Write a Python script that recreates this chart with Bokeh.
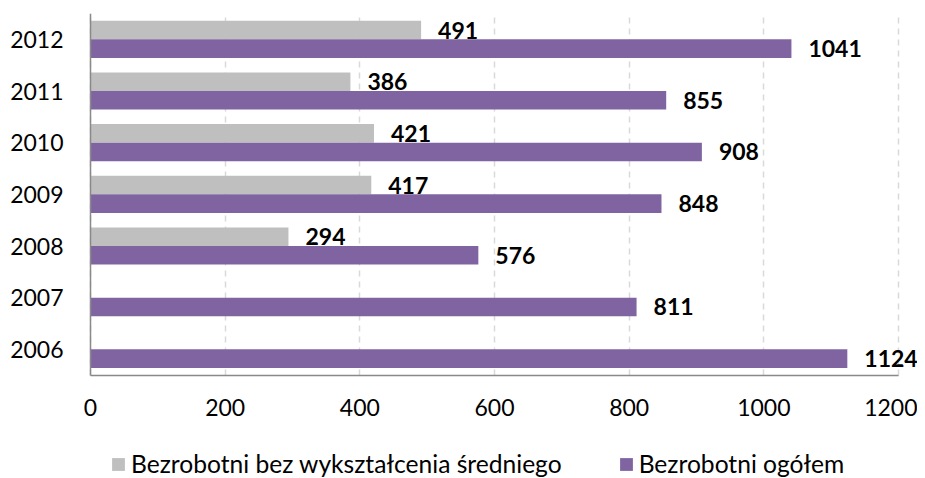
from bokeh.plotting import figure
from bokeh.models import (ColumnDataSource, Range1d, FixedTicker,
                          LabelSet, Legend, LegendItem)
from bokeh.core.properties import value
from bokeh.transform import dodge
from bokeh.embed import file_html
from bokeh.resources import INLINE

years = ["2006", "2007", "2008", "2009", "2010", "2011", "2012"]
total = [1124, 811, 576, 848, 908, 855, 1041]
no_secondary = [None, None, 294, 417, 421, 386, 491]
x_ticks = [0, 200, 400, 600, 800, 1000, 1200]
series_names = ["Bezrobotni bez wykształcenia średniego", "Bezrobotni ogółem"]

GRAY = "#BFBFBF"
PURPLE = "#8064A2"
FONT = "Lato"

pos = list(range(len(years)))
src_total = ColumnDataSource(dict(pos=pos, value=total,
                                  label=[str(v) for v in total]))
sec_pos = [i for i, v in zip(pos, no_secondary) if v is not None]
sec_vals = [v for v in no_secondary if v is not None]
src_sec = ColumnDataSource(dict(pos=sec_pos, value=sec_vals,
                                label=[str(v) for v in sec_vals]))

n = len(years)
# layout: axis origin 90px from the left, 808px for 0..1200
PX_PER_UNIT = 808 / 1200
X_START = -90 / PX_PER_UNIT
X_END = (917 - 90) / PX_PER_UNIT

p = figure(x_range=Range1d(X_START, X_END), y_range=Range1d(-2.5, n - 0.5),
           frame_width=917, frame_height=465,
           min_border_left=0, min_border_right=0, min_border_top=13,
           min_border_bottom=0,
           output_backend="svg", toolbar_location=None)
p.outline_line_color = None
p.background_fill_color = "white"

# grid lines (vertical, dashed) limited to the plotting band
try:
    p.xgrid.cross_bounds = (-0.5, n - 0.5)
    p.xgrid.ticker = FixedTicker(ticks=x_ticks)
    p.xgrid.grid_line_color = "#D9D9D9"
    p.xgrid.grid_line_dash = "6 5"
    p.xgrid.grid_line_width = 1.5
except AttributeError:
    p.xgrid.grid_line_color = None
    p.segment(x0=x_ticks, x1=x_ticks, y0=[-0.5] * len(x_ticks),
              y1=[n - 0.5] * len(x_ticks), line_color="#D9D9D9",
              line_dash="6 5", line_width=1.5)
p.ygrid.grid_line_color = None

r_sec = p.hbar(y=dodge("pos", 0.18), right="value", left=0,
               height=0.36, source=src_sec, fill_color=GRAY, line_color=None)
r_tot = p.hbar(y=dodge("pos", -0.18), right="value", left=0,
               height=0.36, source=src_total, fill_color=PURPLE, line_color=None)

for src, off in ((src_sec, 0.18), (src_total, -0.18)):
    lbl = LabelSet(x="value", y=dodge("pos", off), text="label",
                   source=src, x_offset=17, text_baseline="middle",
                   text_font=value(FONT), text_font_style="bold",
                   text_font_size="23px", text_color="#000000")
    p.add_layout(lbl)

# axes
p.xaxis.ticker = FixedTicker(ticks=x_ticks)
p.xaxis.fixed_location = -0.5
p.xaxis.bounds = (0, 1200)
p.yaxis.ticker = FixedTicker(ticks=pos)
p.yaxis.major_label_overrides = {i: y for i, y in zip(pos, years)}
p.yaxis.bounds = (-0.5, n - 0.5)
p.yaxis.fixed_location = 0
for ax in (p.xaxis[0], p.yaxis[0]):
    ax.major_tick_out = 0
    ax.major_tick_in = 0
    ax.minor_tick_out = 0
    ax.minor_tick_in = 0
    ax.axis_line_color = "#898989"
    ax.axis_line_width = 1.5
    ax.major_label_text_font = FONT
    ax.major_label_text_font_size = "23px"
    ax.major_label_text_color = "#000000"
p.xaxis.major_label_standoff = 24
p.yaxis.major_label_standoff = 27

legend = Legend(items=[LegendItem(label=series_names[0], renderers=[r_sec]),
                       LegendItem(label=series_names[1], renderers=[r_tot])],
                orientation="horizontal", location=(110, 0),
                padding=0, margin=0, spacing=56,
                glyph_width=16, glyph_height=16, label_standoff=5,
                label_text_font=FONT, label_text_font_size="24.6px",
                label_text_color="#000000",
                border_line_color=None, background_fill_alpha=0)
p.add_layout(legend)

open("out.html", "w").write(file_html(p, INLINE))
